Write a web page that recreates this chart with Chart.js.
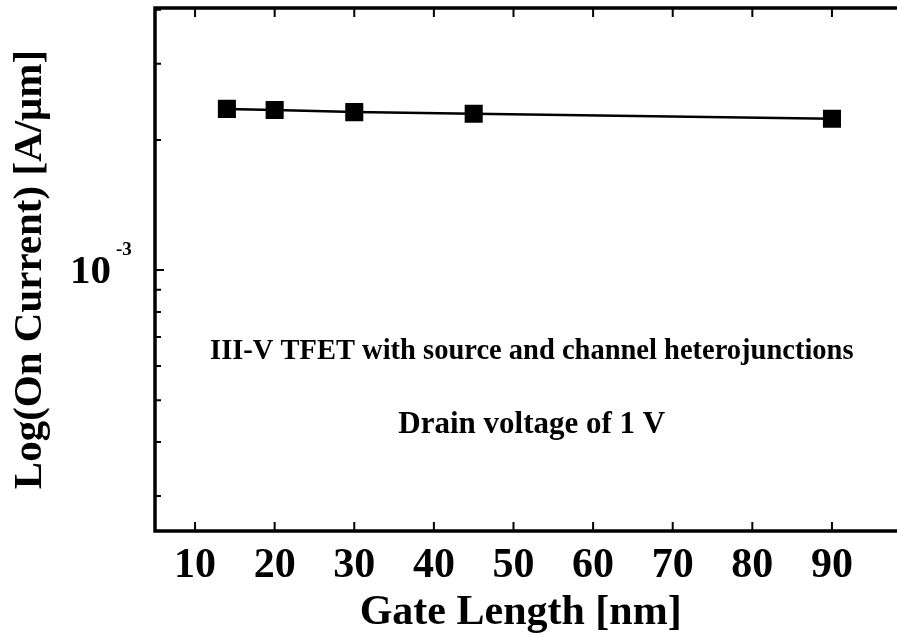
<!DOCTYPE html>
<html>
<head>
<meta charset="utf-8">
<script src="https://cdn.jsdelivr.net/npm/chart.js@4"></script>
<style>
  html, body { margin: 0; padding: 0; background: #fff; overflow: hidden; }
</style>
</head>
<body>
<canvas id="myChart" width="906" height="639"></canvas>
<script>
// Values
const gateLengths = [14, 20, 30, 45, 90];
const onCurrents = [2.36e-3, 2.345e-3, 2.32e-3, 2.30e-3, 2.24e-3];
const xTickValues = [10, 20, 30, 40, 50, 60, 70, 80, 90];
const yTickValues = [3e-4, 4e-4, 5e-4, 6e-4, 7e-4, 8e-4, 9e-4, 1e-3, 2e-3, 3e-3, 4e-3];
const yMajorTick = 1e-3;
const xTitle = 'Gate Length [nm]';
const yTitle = 'Log(On Current) [A/μm]';
const notes = ['III-V TFET with source and channel heterojunctions', 'Drain voltage of 1 V'];

const serif = "'Liberation Serif', 'Times New Roman', serif";

// Frame, inward ticks, the 10^-3 label, the x title and the two notes
const framePlugin = {
  id: 'frame',
  afterDatasetsDraw(chart) {
    const { ctx, chartArea: a, scales: { x, y } } = chart;
    ctx.save();
    ctx.strokeStyle = '#000';
    ctx.lineWidth = 2;
    ctx.beginPath();
    xTickValues.forEach(v => {
      const px = x.getPixelForValue(v);
      ctx.moveTo(px, a.bottom); ctx.lineTo(px, a.bottom - 9);
      ctx.moveTo(px, a.top); ctx.lineTo(px, a.top + 9);
    });
    yTickValues.forEach(v => {
      const py = y.getPixelForValue(v);
      const len = v === yMajorTick ? 9 : 6;
      ctx.moveTo(a.left, py); ctx.lineTo(a.left + len, py);
      ctx.moveTo(a.right, py); ctx.lineTo(a.right - 6, py);
    });
    ctx.stroke();

    ctx.lineWidth = 3.5;
    ctx.strokeRect(a.left, a.top, a.right - a.left, a.bottom - a.top);

    // y tick label 10^-3
    const py = y.getPixelForValue(yMajorTick);
    ctx.fillStyle = '#000';
    ctx.textBaseline = 'middle';
    ctx.textAlign = 'right';
    ctx.font = 'bold 41px ' + serif;
    ctx.fillText('10', 111, py + 2);
    ctx.textAlign = 'left';
    ctx.font = 'bold 19px ' + serif;
    ctx.fillText('-3', 116, py - 20);

    // x axis title
    ctx.textAlign = 'center';
    ctx.font = 'bold 42px ' + serif;
    ctx.fillText(xTitle, x.getPixelForValue(50.9), 613);

    // notes inside the plot
    const cx = x.getPixelForValue(52.3);
    ctx.font = 'bold 28.5px ' + serif;
    ctx.fillText(notes[0], cx, y.getPixelForValue(6.46e-4));
    ctx.font = 'bold 31px ' + serif;
    ctx.fillText(notes[1], cx, y.getPixelForValue(4.38e-4));
    ctx.restore();
  }
};

const ctx = document.getElementById('myChart').getContext('2d');
const chart = new Chart(ctx, {
  type: 'line',
  data: {
    datasets: [{
      data: gateLengths.map((g, i) => ({ x: g, y: onCurrents[i] })),
      borderColor: '#000',
      backgroundColor: '#000',
      borderWidth: 2.5,
      pointStyle: 'rect',
      pointRadius: 11,
      pointHoverRadius: 11,
      tension: 0,
      fill: false
    }]
  },
  options: {
    responsive: false,
    animation: false,
    devicePixelRatio: 1,
    layout: { autoPadding: false, padding: { top: 8, right: 2, bottom: 0, left: 0 } },
    plugins: { legend: { display: false }, tooltip: { enabled: false } },
    scales: {
      x: {
        type: 'linear',
        min: 4.97,
        max: 99.05,
        afterBuildTicks: s => { s.ticks = xTickValues.map(v => ({ value: v })); },
        afterFit: s => { s.height = 639 - 531; },
        grid: { display: false, drawTicks: false },
        border: { display: false },
        ticks: {
          color: '#000',
          padding: 10,
          font: { family: serif, size: 42, weight: 'bold' }
        }
      },
      y: {
        type: 'logarithmic',
        min: 2.49e-4,
        max: 4.04e-3,
        afterBuildTicks: s => { s.ticks = yTickValues.map(v => ({ value: v })); },
        afterFit: s => { s.width = 155; },
        grid: { display: false, drawTicks: false },
        border: { display: false },
        ticks: { display: false },
        title: {
          display: true,
          text: yTitle,
          color: '#000',
          padding: { top: 6, bottom: 0 },
          font: { family: serif, size: 41, weight: 'bold' }
        }
      }
    }
  },
  plugins: [framePlugin]
});
</script>
</body>
</html>
